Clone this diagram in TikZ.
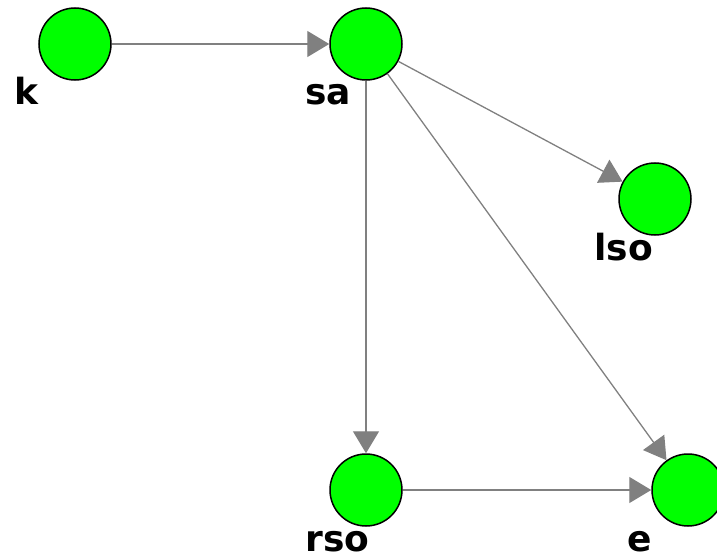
\documentclass[tikz,border=0pt]{standalone}
\usepackage{fontspec}
\setmainfont{DejaVu Sans}
\usetikzlibrary{calc, arrows.meta}

\begin{document}
\begin{tikzpicture}[x=1pt, y=-1pt]
    \definecolor{C0}{HTML}{00FF00}
    \definecolor{C1}{HTML}{808080}

    \useasboundingbox (0,0) rectangle (717,559);

    \node[draw, shape=circle, fill=C0, minimum size=72pt, inner sep=0pt, line width=1.5pt] (k) at (75,44) {};
    \node[draw, shape=circle, fill=C0, minimum size=72pt, inner sep=0pt, line width=1.5pt] (sa) at (366,44) {};
    \node[draw, shape=circle, fill=C0, minimum size=72pt, inner sep=0pt, line width=1.5pt] (lso) at (655,199) {};
    \node[draw, shape=circle, fill=C0, minimum size=72pt, inner sep=0pt, line width=1.5pt] (rso) at (366,490) {};
    \node[draw, shape=circle, fill=C0, minimum size=72pt, inner sep=0pt, line width=1.5pt] (e) at (688,490) {};

    \node at ($ (k) + (-64,61) $) [anchor=base west, font=\fontsize{36}{40}\selectfont\bfseries] (klabel) {k};
    \node at ($ (sa) + (-64,61) $) [anchor=base west, font=\fontsize{36}{40}\selectfont\bfseries] (salabel) {sa};
    \node at ($ (lso) + (-64,61) $) [anchor=base west, font=\fontsize{36}{40}\selectfont\bfseries] (lsolabel) {lso};
    \node at ($ (rso) + (-64,61) $) [anchor=base west, font=\fontsize{36}{40}\selectfont\bfseries] (rsolabel) {rso};
    \node at ($ (e) + (-64,61) $) [anchor=base west, font=\fontsize{36}{40}\selectfont\bfseries] (elabel) {e};

    \path[draw=C1, line width=1.3pt, -{Triangle[length=22pt, width=26pt]}] (k) -- (sa);
    \path[draw=C1, line width=1.3pt, -{Triangle[length=22pt, width=26pt]}] (sa) -- (lso);
    \path[draw=C1, line width=1.3pt, -{Triangle[length=22pt, width=26pt]}] (sa) -- (rso);
    \path[draw=C1, line width=1.3pt, -{Triangle[length=22pt, width=26pt]}] (sa) -- (e);
    \path[draw=C1, line width=1.3pt, -{Triangle[length=22pt, width=26pt]}] (rso) -- (e);


\end{tikzpicture}
\end{document}
